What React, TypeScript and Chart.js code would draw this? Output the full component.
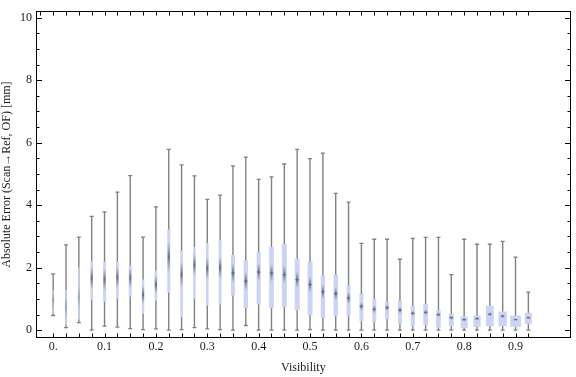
import { useEffect, useRef } from 'react';
import { Chart, registerables } from 'chart.js';

Chart.register(...registerables);

// ---- data ----
const visibility = [
  0, 0.025, 0.05, 0.075, 0.1, 0.125, 0.15, 0.175, 0.2, 0.225,
  0.25, 0.275, 0.3, 0.325, 0.35, 0.375, 0.4, 0.425, 0.45, 0.475,
  0.5, 0.525, 0.55, 0.575, 0.6, 0.625, 0.65, 0.675, 0.7, 0.725,
  0.75, 0.775, 0.8, 0.825, 0.85, 0.875, 0.9, 0.925,
];
const whiskerLow = [
  0.47, 0.08, 0.24, 0.0, 0.13, 0.10, 0.05, 0.02, 0.04, 0.0,
  0.02, 0.08, 0.04, 0.02, 0.0, 0.15, 0.0, 0.0, 0.0, 0.0,
  0.02, 0.0, 0.0, 0.0, 0.0, 0.0, 0.0, 0.0, 0.0, 0.0,
  0.0, 0.0, 0.0, 0.0, 0.0, 0.0, 0.0, 0.0,
];
const quartile1 = [
  0.52, 0.16, 0.34, 0.97, 0.91, 1.01, 1.08, 0.53, 0.94, 1.20,
  0.42, 1.01, 0.79, 0.82, 1.11, 0.70, 0.82, 0.70, 0.74, 0.64,
  0.48, 0.39, 0.45, 0.47, 0.29, 0.26, 0.36, 0.20, 0.13, 0.17,
  0.09, 0.13, 0.07, 0.10, 0.13, 0.13, 0.10, 0.20,
];
const medians = [
  0.95, 0.75, 1.05, 1.67, 1.62, 1.69, 1.67, 1.13, 1.46, 2.35,
  1.78, 2.09, 1.98, 2.00, 1.83, 1.57, 1.86, 1.83, 1.78, 1.62,
  1.46, 1.23, 1.17, 1.03, 0.76, 0.67, 0.72, 0.64, 0.54, 0.57,
  0.50, 0.40, 0.34, 0.37, 0.51, 0.45, 0.34, 0.40,
];
const quartile3 = [
  1.28, 1.29, 2.01, 2.21, 2.19, 2.19, 2.07, 1.62, 1.91, 3.22,
  2.54, 2.66, 2.79, 2.88, 2.41, 2.23, 2.50, 2.66, 2.76, 2.29,
  2.19, 1.75, 1.78, 1.44, 1.16, 1.00, 0.91, 0.94, 0.78, 0.85,
  0.63, 0.52, 0.44, 0.47, 0.78, 0.60, 0.47, 0.56,
];
const whiskerHigh = [
  1.80, 2.73, 2.98, 3.64, 3.79, 4.42, 4.95, 2.98, 3.95, 5.79,
  5.29, 4.94, 4.19, 4.32, 5.26, 5.54, 4.83, 4.91, 5.32, 5.79,
  5.49, 5.67, 4.38, 4.10, 2.78, 2.91, 2.91, 2.27, 2.94, 2.97,
  2.97, 1.78, 2.91, 2.75, 2.75, 2.84, 2.34, 1.22,
];
const notchHalf = [
  0.30, 0.35, 0.40, 0.38, 0.36, 0.35, 0.33, 0.30, 0.30, 0.50,
  0.42, 0.36, 0.36, 0.36, 0.33, 0.30, 0.30, 0.30, 0.30, 0.28,
  0.26, 0.24, 0.22, 0.20, 0.14, 0.13, 0.11, 0.11, 0.09, 0.09,
  0.08, 0.07, 0.06, 0.06, 0.07, 0.06, 0.04, 0.05,
];
const xTickValues = [0, 0.1, 0.2, 0.3, 0.4, 0.5, 0.6, 0.7, 0.8, 0.9];
const xTickLabels = ['0.', '0.1', '0.2', '0.3', '0.4', '0.5', '0.6', '0.7', '0.8', '0.9'];
const yTickValues = [0, 2, 4, 6, 8, 10];
const yTickLabels = ['0', '2', '4', '6', '8', '10'];
const yMinorTicks = [
  0, 0.5, 1, 1.5, 2, 2.5, 3, 3.5, 4, 4.5, 5, 5.5, 6, 6.5, 7, 7.5, 8, 8.5, 9, 9.5, 10,
];
const xTopExtraTick = -0.025;

// ---- style ----
const BOX_WIDTHS = [
  1.2, 1.5, 1.5, 2.4, 2.7, 2.7, 3, 2.3, 2.7, 3,
  2.4, 2.2, 2.7, 3, 4, 4.3, 4, 4.7, 5, 5,
  5, 4.3, 4.4, 4, 4, 4, 4, 4, 4.2, 4.7,
  4.7, 5, 7, 7.2, 7.8, 8.3, 10.8, 7,
];
const BOX_COLOR = 'rgb(204,212,246)';
const WHISKER_COLOR = 'rgb(128,128,128)';
const FONT = 'Liberation Serif, Times New Roman, serif';

const framePlugin = {
  id: 'frameTicks',
  afterDatasetsUpdate(chart: any) {
    const meta = chart.getDatasetMeta(3);
    meta.data.forEach((el: any, i: number) => {
      el.width = BOX_WIDTHS[i];
    });
  },
  afterDraw(chart: any) {
    const { ctx, chartArea: a, scales } = chart;
    const xs = scales.x;
    const ys = scales.y;
    ctx.save();
    ctx.strokeStyle = '#000';
    ctx.lineWidth = 1;
    const L = Math.round(a.left) + 0.5;
    const R = Math.round(a.right) - 0.5;
    const T = Math.round(a.top) + 0.5;
    const B = Math.round(a.bottom) - 0.5;
    ctx.beginPath();
    yMinorTicks.forEach((v) => {
      const major = yTickValues.indexOf(v) >= 0;
      const len = major ? 5.5 : 3;
      const py = Math.round(ys.getPixelForValue(v)) + 0.5;
      ctx.moveTo(L, py);
      ctx.lineTo(L + len, py);
      ctx.moveTo(R, py);
      ctx.lineTo(R - len, py);
    });
    visibility.forEach((v) => {
      const px = Math.round(xs.getPixelForValue(v)) + 0.5;
      ctx.moveTo(px, B);
      ctx.lineTo(px, B - 4);
      ctx.moveTo(px, T);
      ctx.lineTo(px, T + 4);
    });
    const pe = Math.round(xs.getPixelForValue(xTopExtraTick)) + 0.5;
    ctx.moveTo(pe, T);
    ctx.lineTo(pe, T + 4);
    ctx.stroke();
    ctx.strokeRect(L, T, R - L, B - T);
    ctx.restore();
  },
};

export default function App() {
  const ref = useRef<HTMLCanvasElement | null>(null);

  useEffect(() => {
    document.body.style.margin = '0';
    const canvas = ref.current;
    if (!canvas) return;

    const notchGradient = (c: any) => {
      if (c.type !== 'data') return 'rgba(100,100,115,0.8)';
      const i = c.dataIndex;
      const ys = c.chart.scales.y;
      const t = ys.getPixelForValue(medians[i] + notchHalf[i]);
      const b = ys.getPixelForValue(medians[i] - notchHalf[i]);
      if (!isFinite(t) || !isFinite(b) || t === b) return 'rgba(100,100,115,0.8)';
      const strength = i < 3 ? 0.35 : 0.9;
      const g = c.chart.ctx.createLinearGradient(0, t, 0, b);
      g.addColorStop(0, 'rgba(120,120,135,0)');
      g.addColorStop(0.5, `rgba(95,95,110,${strength})`);
      g.addColorStop(1, 'rgba(120,120,135,0)');
      return g;
    };

    const chart = new Chart(canvas, {
      type: 'bar',
      data: {
        datasets: [
          {
            type: 'line',
            label: 'caps',
            data: visibility.flatMap((v, i) => [
              { x: v, y: whiskerLow[i] },
              { x: v, y: whiskerHigh[i] },
            ]),
            showLine: false,
            pointStyle: 'line',
            pointRadius: 2,
            pointBorderWidth: 1.3,
            pointBorderColor: WHISKER_COLOR,
            borderColor: WHISKER_COLOR,
            order: 0,
          } as any,
          {
            type: 'line',
            label: 'median',
            data: visibility.map((v, i) => ({ x: v, y: medians[i] })),
            showLine: false,
            pointStyle: 'line',
            pointRadius: (c: any) => ((BOX_WIDTHS[c.dataIndex] || 0) >= 4 ? 1.8 : 0),
            pointBorderWidth: 1.2,
            pointBorderColor: 'rgba(105,105,118,0.85)',
            borderColor: 'rgba(105,105,118,0.85)',
            order: 1,
          } as any,
          {
            type: 'bar',
            label: 'notch',
            data: visibility.map((v, i) => ({
              x: v,
              y: [medians[i] - notchHalf[i], medians[i] + notchHalf[i]],
            })),
            backgroundColor: notchGradient,
            barThickness: 2.2,
            grouped: false,
            inflateAmount: 0,
            order: 2,
          } as any,
          {
            type: 'bar',
            label: 'box',
            data: visibility.map((v, i) => ({ x: v, y: [quartile1[i], quartile3[i]] })),
            backgroundColor: BOX_COLOR,
            barThickness: 4,
            grouped: false,
            inflateAmount: 0,
            order: 3,
          } as any,
          {
            type: 'bar',
            label: 'whisker',
            data: visibility.map((v, i) => ({ x: v, y: [whiskerLow[i], whiskerHigh[i]] })),
            backgroundColor: WHISKER_COLOR,
            barThickness: 1.4,
            grouped: false,
            inflateAmount: 0,
            order: 4,
          } as any,
        ],
      },
      options: {
        animation: false,
        responsive: false,
        maintainAspectRatio: false,
        layout: { padding: { left: 0, right: 1, top: 4, bottom: 0 } },
        plugins: {
          legend: { display: false },
          tooltip: { enabled: false },
        },
        scales: {
          x: {
            type: 'linear',
            min: -0.0334,
            max: 1.0074,
            offset: false,
            grid: { display: false, drawTicks: false },
            border: { display: false },
            afterBuildTicks: (s: any) => {
              s.ticks = xTickValues.map((v) => ({ value: v }));
            },
            afterFit: (s: any) => {
              s.height = 39;
            },
            ticks: {
              padding: 2,
              color: '#1a1a1a',
              font: { family: FONT, size: 12 },
              maxRotation: 0,
              autoSkip: false,
              callback: (_v: any, idx: number) => xTickLabels[idx],
            },
            title: {
              display: true,
              text: 'Visibility',
              color: '#1a1a1a',
              font: { family: FONT, size: 12 },
              padding: { top: 0, bottom: 2 },
            },
          },
          y: {
            type: 'linear',
            min: -0.25,
            max: 10.21,
            grid: { display: false, drawTicks: false },
            border: { display: false },
            afterBuildTicks: (s: any) => {
              s.ticks = yTickValues.map((v) => ({ value: v }));
            },
            afterFit: (s: any) => {
              s.width = 36;
            },
            ticks: {
              padding: 4,
              color: '#1a1a1a',
              font: { family: FONT, size: 12 },
              autoSkip: false,
              callback: (_v: any, idx: number) => yTickLabels[idx],
            },
            title: {
              display: true,
              text: 'Absolute Error (Scan\u2192Ref, OF) [mm]',
              color: '#1a1a1a',
              font: { family: FONT, size: 12 },
              padding: { top: 0, bottom: 0 },
            },
          },
        },
      },
      plugins: [framePlugin],
    } as any);

    return () => chart.destroy();
  }, []);

  return (
    <div style={{ width: 576, height: 377 }}>
      <canvas ref={ref} width={576} height={377} style={{ display: 'block' }} />
    </div>
  );
}
